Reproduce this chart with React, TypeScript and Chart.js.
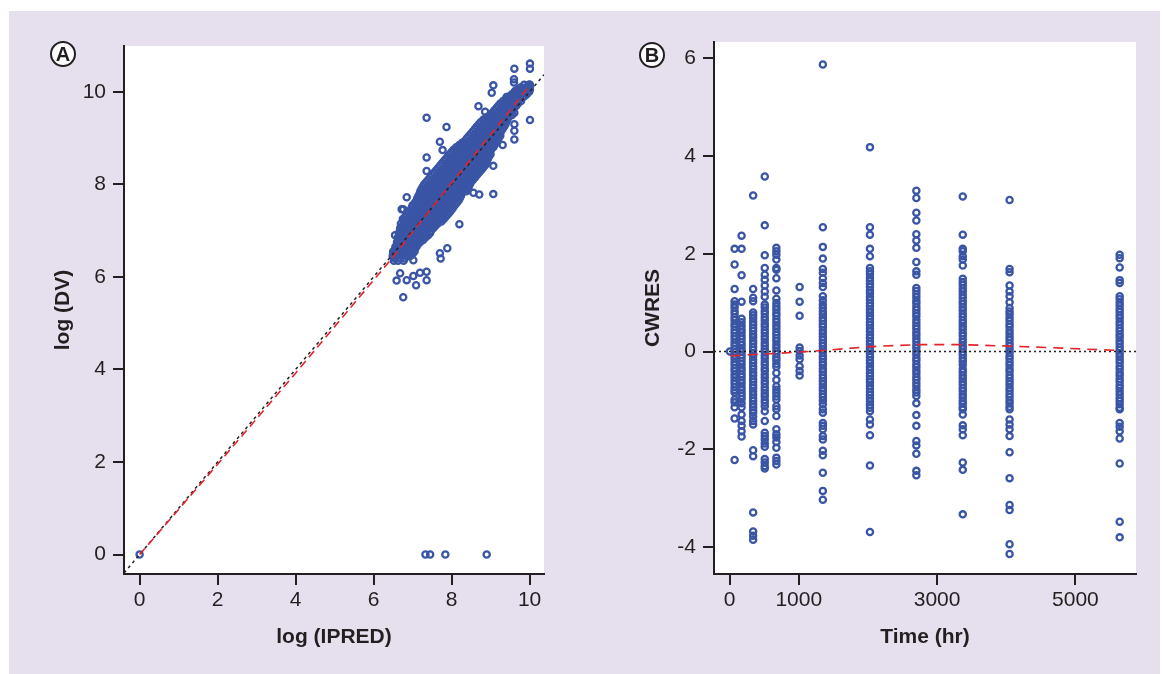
import React, { useEffect, useRef } from 'react';
import { Chart, registerables } from 'chart.js';

Chart.register(...registerables);

const FONT = '"Liberation Sans", Arial, Helvetica, sans-serif';
const INK = '#231f20';
const BLUE = '#3a55a5';
const RED = '#e3242b';
const LAVENDER = '#e6e0ee';

// ---------- Panel A: log(DV) vs log(IPRED) ----------
const ipredTicks = [0, 2, 4, 6, 8, 10];
const dvTicks = [0, 2, 4, 6, 8, 10];

// dense cloud, read row by row (log DV level -> log IPRED values)
const cloudDV = [6.35, 6.45, 6.55, 6.65, 6.75, 6.85, 6.95, 7.05, 7.15, 7.25, 7.35, 7.45, 7.55, 7.65, 7.75, 7.85, 7.95, 8.05, 8.15, 8.25, 8.35, 8.45, 8.55, 8.65, 8.75, 8.85, 8.95, 9.05, 9.15, 9.25, 9.35, 9.45, 9.55, 9.65, 9.75, 9.85, 9.95, 10.05, 10.15];
const cloudIPRED = [
  [6.52, 6.63, 6.77],
  [6.49, 6.6, 6.73, 6.85, 6.94],
  [6.5, 6.62, 6.74, 6.87, 6.97, 7.05],
  [6.56, 6.67, 6.8, 6.9, 7.02, 7.1],
  [6.6, 6.71, 6.83, 6.96, 7.07, 7.19],
  [6.62, 6.74, 6.86, 6.98, 7.11, 7.22, 7.33],
  [6.65, 6.77, 6.9, 7.01, 7.13, 7.26, 7.36, 7.45],
  [6.68, 6.8, 6.92, 7.05, 7.16, 7.28, 7.41, 7.53],
  [6.7, 6.83, 6.95, 7.07, 7.2, 7.31, 7.43, 7.56, 7.64],
  [6.75, 6.87, 6.99, 7.12, 7.23, 7.35, 7.48, 7.59, 7.71, 7.8],
  [6.85, 6.97, 7.1, 7.21, 7.33, 7.46, 7.57, 7.68, 7.8, 7.9],
  [6.95, 7.07, 7.19, 7.32, 7.43, 7.55, 7.67, 7.78, 7.89, 8.0],
  [7.0, 7.13, 7.24, 7.36, 7.49, 7.6, 7.72, 7.85, 7.96, 8.08],
  [7.1, 7.22, 7.35, 7.46, 7.58, 7.71, 7.82, 7.94, 8.07, 8.18],
  [7.15, 7.27, 7.4, 7.51, 7.63, 7.76, 7.87, 7.99, 8.12, 8.24],
  [7.2, 7.32, 7.45, 7.56, 7.68, 7.81, 7.92, 8.04, 8.17, 8.28, 8.38],
  [7.26, 7.38, 7.51, 7.62, 7.74, 7.87, 7.98, 8.1, 8.23, 8.34, 8.44],
  [7.35, 7.47, 7.6, 7.71, 7.83, 7.96, 8.07, 8.19, 8.32, 8.43, 8.5],
  [7.45, 7.57, 7.7, 7.81, 7.93, 8.06, 8.17, 8.29, 8.42, 8.53, 8.6],
  [7.55, 7.67, 7.8, 7.91, 8.03, 8.16, 8.27, 8.39, 8.52, 8.62, 8.7],
  [7.65, 7.77, 7.9, 8.01, 8.13, 8.26, 8.37, 8.49, 8.62, 8.72, 8.8],
  [7.75, 7.87, 8.0, 8.11, 8.23, 8.36, 8.47, 8.59, 8.72, 8.82, 8.9],
  [7.85, 7.97, 8.1, 8.21, 8.33, 8.46, 8.57, 8.69, 8.82, 8.93],
  [7.95, 8.07, 8.2, 8.31, 8.43, 8.56, 8.67, 8.79, 8.92, 9.0],
  [8.05, 8.17, 8.3, 8.41, 8.53, 8.66, 8.77, 8.89, 9.01],
  [8.2, 8.32, 8.45, 8.56, 8.68, 8.81, 8.92, 9.04, 9.1],
  [8.35, 8.47, 8.6, 8.71, 8.83, 8.96, 9.07, 9.18],
  [8.45, 8.57, 8.7, 8.81, 8.93, 9.06, 9.16, 9.25],
  [8.55, 8.67, 8.8, 8.91, 9.03, 9.16, 9.27],
  [8.65, 8.77, 8.9, 9.01, 9.13, 9.26, 9.35],
  [8.75, 8.87, 9.0, 9.11, 9.23, 9.35, 9.4],
  [8.9, 9.02, 9.15, 9.26, 9.38, 9.46],
  [9.05, 9.17, 9.3, 9.41, 9.53],
  [9.15, 9.27, 9.4, 9.51, 9.6],
  [9.25, 9.37, 9.5, 9.61, 9.7],
  [9.4, 9.52, 9.65, 9.76],
  [9.55, 9.67, 9.8, 9.93],
  [9.7, 9.82, 9.94, 10.01],
  [9.86, 9.98, 10.01],
];

// in-between rows of the same dense cloud
const cloudMidDV = [6.4, 6.5, 6.6, 6.7, 6.8, 6.9, 7.0, 7.1, 7.2, 7.3, 7.4, 7.5, 7.6, 7.7, 7.8, 7.9, 8.0, 8.1, 8.2, 8.3, 8.4, 8.5, 8.6, 8.7, 8.8, 8.9, 9.0, 9.1, 9.2, 9.3, 9.4, 9.5, 9.6, 9.7, 9.8, 9.9, 10.0, 10.1];
const cloudMidIPRED = [
  [6.55, 6.68, 6.8],
  [6.55, 6.67, 6.8, 6.92, 7.0],
  [6.56, 6.68, 6.8, 6.95, 7.06],
  [6.62, 6.75, 6.87, 7.0, 7.13],
  [6.66, 6.78, 6.92, 7.04, 7.16, 7.27],
  [6.68, 6.8, 6.93, 7.06, 7.18, 7.3, 7.4],
  [6.72, 6.85, 6.97, 7.09, 7.22, 7.34, 7.47],
  [6.74, 6.87, 6.99, 7.1, 7.24, 7.35, 7.48, 7.58],
  [6.77, 6.9, 7.02, 7.15, 7.26, 7.38, 7.52, 7.64, 7.74],
  [6.81, 6.93, 7.05, 7.17, 7.28, 7.41, 7.53, 7.64, 7.75, 7.85],
  [6.9, 7.02, 7.15, 7.27, 7.39, 7.5, 7.62, 7.74, 7.85, 7.95],
  [6.98, 7.1, 7.22, 7.34, 7.46, 7.58, 7.7, 7.82, 7.93, 8.04],
  [7.06, 7.18, 7.3, 7.42, 7.54, 7.66, 7.77, 7.9, 8.02, 8.13],
  [7.12, 7.25, 7.37, 7.49, 7.61, 7.73, 7.85, 7.97, 8.09, 8.21],
  [7.18, 7.3, 7.42, 7.54, 7.66, 7.78, 7.9, 8.02, 8.14, 8.26],
  [7.23, 7.35, 7.48, 7.6, 7.71, 7.84, 7.96, 8.07, 8.2, 8.31, 8.41],
  [7.3, 7.42, 7.55, 7.67, 7.79, 7.91, 8.03, 8.15, 8.27, 8.38, 8.47],
  [7.4, 7.52, 7.65, 7.76, 7.88, 8.01, 8.12, 8.24, 8.37, 8.48, 8.55],
  [7.5, 7.62, 7.75, 7.86, 7.98, 8.11, 8.22, 8.34, 8.47, 8.58, 8.65],
  [7.6, 7.72, 7.85, 7.96, 8.08, 8.21, 8.32, 8.44, 8.57, 8.67, 8.75],
  [7.7, 7.82, 7.95, 8.06, 8.18, 8.31, 8.42, 8.54, 8.67, 8.77, 8.85],
  [7.8, 7.92, 8.05, 8.16, 8.28, 8.41, 8.52, 8.64, 8.77, 8.88],
  [7.9, 8.02, 8.15, 8.26, 8.38, 8.51, 8.62, 8.74, 8.87, 8.96],
  [8.0, 8.12, 8.25, 8.36, 8.48, 8.61, 8.72, 8.84, 8.96],
  [8.12, 8.25, 8.37, 8.5, 8.62, 8.74, 8.86, 8.98, 9.07],
  [8.27, 8.4, 8.52, 8.64, 8.76, 8.88, 9.0, 9.14],
  [8.4, 8.52, 8.65, 8.76, 8.88, 9.0, 9.12, 9.21],
  [8.5, 8.62, 8.75, 8.86, 8.98, 9.1, 9.22],
  [8.6, 8.72, 8.84, 8.96, 9.08, 9.2, 9.31],
  [8.7, 8.82, 8.94, 9.06, 9.18, 9.3, 9.38],
  [8.82, 8.95, 9.08, 9.2, 9.32, 9.43],
  [8.98, 9.1, 9.23, 9.35, 9.47, 9.55],
  [9.1, 9.22, 9.34, 9.46, 9.56],
  [9.2, 9.32, 9.44, 9.56, 9.66],
  [9.32, 9.45, 9.58, 9.7, 9.78],
  [9.47, 9.6, 9.72, 9.86],
  [9.62, 9.75, 9.88, 9.99],
  [9.78, 9.92, 10.01],
];

// scattered points around the cloud
const outlierIPRED = [9.61, 10.01, 10.01, 9.6, 9.6, 9.07, 9.03, 10.01, 10.0, 10.01, 9.41, 9.63, 9.31, 9.31, 8.69, 8.86, 9.07, 9.61, 9.61, 9.61, 9.61, 9.31, 7.36, 7.87, 7.7, 7.77, 7.36, 7.36, 6.85, 6.76, 8.56, 8.71, 9.07, 9.07, 8.2, 7.89, 7.72, 7.36, 7.19, 7.02, 6.85, 6.59, 6.68, 7.09, 6.76, 7.36, 6.55, 6.5, 6.68, 7.02, 7.7, 8.13, 6.72, 6.68, 6.55];
const outlierDV = [10.5, 10.61, 10.5, 10.27, 10.2, 10.14, 9.98, 10.12, 10.15, 9.39, 9.89, 10.02, 9.73, 9.53, 9.69, 9.57, 9.55, 9.55, 9.3, 9.16, 8.97, 8.85, 9.44, 9.24, 8.92, 8.74, 8.58, 8.29, 7.72, 7.46, 7.82, 7.78, 7.79, 8.4, 7.14, 6.62, 6.4, 6.11, 6.09, 6.02, 5.93, 5.92, 6.08, 5.82, 5.56, 5.93, 6.9, 6.51, 6.58, 6.36, 6.51, 7.8, 7.46, 7.01, 6.58];

// observations below quantification (log DV = 0)
const zeroDVIPRED = [0, 7.33, 7.45, 7.84, 8.9];

// identity line ends (axis limits) and loess smooth
const identityEnds = [-0.4, 10.37];
const loessAIPRED = [0, 2, 4, 6, 6.5, 7, 7.5, 8, 8.5, 9, 9.5, 9.98];
const loessADV = [0, 1.95, 3.92, 5.93, 6.43, 6.97, 7.5, 8.03, 8.55, 9.08, 9.6, 10.12];

// ---------- Panel B: CWRES vs Time ----------
const timeTicks = [0, 1000, 3000, 5000];
const cwresTicks = [-4, -2, 0, 2, 4, 6];

const sampleTimes = [4, 72, 173, 340, 508, 676, 1012, 1348, 2029, 2700, 3371, 4048, 5640];
const cwres4 = [0];
const cwres72 = [2.1, 1.78, 1.28, 1.03, 0.96, 0.9, 0.83, 0.77, 0.7, 0.64, 0.57, 0.51, 0.44, 0.38, 0.31, 0.25, 0.18, 0.12, 0.05, -0.01, -0.08, -0.14, -0.21, -0.27, -0.34, -0.4, -0.47, -0.53, -0.6, -0.66, -0.73, -0.79, -0.84, -0.98, -1.04, -1.14, -1.37, -2.22];
const cwres173 = [2.37, 2.1, 1.56, 1.02, 0.67, 0.6, 0.52, 0.45, 0.39, 0.32, 0.26, 0.19, 0.13, 0.06, 0, -0.07, -0.13, -0.2, -0.26, -0.33, -0.39, -0.46, -0.52, -0.59, -0.65, -0.72, -0.78, -0.85, -0.91, -0.97, -1.06, -1.14, -1.29, -1.42, -1.52, -1.63, -1.74];
const cwres340 = [3.19, 1.28, 1.1, 1.03, 0.8, 0.74, 0.68, 0.61, 0.55, 0.48, 0.42, 0.35, 0.29, 0.22, 0.16, 0.09, 0.03, -0.04, -0.1, -0.17, -0.23, -0.3, -0.36, -0.43, -0.49, -0.56, -0.62, -0.69, -0.75, -0.82, -0.88, -0.95, -1.01, -1.08, -1.14, -1.2, -1.25, -1.33, -1.42, -1.49, -2.02, -2.14, -3.29, -3.68, -3.77, -3.85];
const cwres508 = [3.58, 2.58, 1.97, 1.71, 1.57, 1.47, 1.35, 1.23, 1.12, 0.96, 0.9, 0.83, 0.77, 0.7, 0.64, 0.57, 0.51, 0.44, 0.38, 0.31, 0.25, 0.18, 0.12, 0.05, -0.01, -0.08, -0.14, -0.21, -0.27, -0.34, -0.4, -0.47, -0.53, -0.6, -0.66, -0.73, -0.79, -0.86, -0.92, -0.99, -1.05, -1.12, -1.22, -1.42, -1.66, -1.73, -1.8, -1.88, -1.95, -2.2, -2.27, -2.34, -2.39];
const cwres676 = [2.12, 2.05, 1.98, 1.88, 1.71, 1.67, 1.5, 1.25, 1.08, 0.99, 0.92, 0.86, 0.79, 0.73, 0.66, 0.6, 0.53, 0.47, 0.4, 0.34, 0.27, 0.21, 0.14, 0.08, 0.01, -0.05, -0.12, -0.18, -0.25, -0.31, -0.44, -0.58, -0.71, -0.78, -0.85, -0.92, -0.98, -1.12, -1.18, -1.32, -1.59, -1.69, -1.76, -1.85, -1.97, -2.17, -2.24, -2.31];
const cwres1012 = [1.32, 1.02, 0.73, 0.08, 0.01, -0.08, -0.16, -0.3, -0.4, -0.49];
const cwres1348 = [5.87, 2.54, 2.14, 1.9, 1.69, 1.61, 1.5, 1.4, 1.32, 1.13, 1.05, 0.96, 0.89, 0.82, 0.76, 0.69, 0.63, 0.56, 0.5, 0.43, 0.37, 0.3, 0.24, 0.17, 0.11, 0.04, -0.02, -0.09, -0.15, -0.22, -0.28, -0.35, -0.41, -0.48, -0.54, -0.61, -0.67, -0.74, -0.8, -0.87, -0.93, -1.0, -1.08, -1.18, -1.25, -1.46, -1.52, -1.59, -1.73, -1.8, -2.03, -2.12, -2.48, -2.85, -3.03];
const cwres2029 = [4.18, 2.54, 2.39, 2.1, 1.95, 1.71, 1.64, 1.58, 1.51, 1.45, 1.38, 1.32, 1.25, 1.19, 1.12, 1.06, 0.99, 0.93, 0.86, 0.8, 0.73, 0.67, 0.6, 0.54, 0.47, 0.41, 0.34, 0.28, 0.21, 0.15, 0.08, 0.02, -0.05, -0.11, -0.18, -0.24, -0.31, -0.37, -0.44, -0.5, -0.57, -0.63, -0.7, -0.76, -0.83, -0.89, -0.96, -1.02, -1.09, -1.15, -1.22, -1.39, -1.49, -1.71, -2.33, -3.69];
const cwres2700 = [3.29, 3.14, 2.84, 2.68, 2.4, 2.27, 2.12, 1.83, 1.64, 1.57, 1.3, 1.24, 1.17, 1.11, 1.04, 0.98, 0.91, 0.85, 0.78, 0.72, 0.65, 0.59, 0.52, 0.46, 0.39, 0.33, 0.26, 0.2, 0.13, 0.07, 0.0, -0.06, -0.13, -0.19, -0.26, -0.32, -0.39, -0.45, -0.52, -0.58, -0.65, -0.71, -0.78, -0.84, -0.91, -1.06, -1.3, -1.52, -1.83, -1.92, -2.09, -2.44, -2.53];
const cwres3371 = [3.17, 2.39, 2.1, 2.05, 1.95, 1.88, 1.76, 1.49, 1.42, 1.36, 1.29, 1.23, 1.16, 1.1, 1.03, 0.97, 0.9, 0.84, 0.77, 0.71, 0.64, 0.58, 0.51, 0.45, 0.38, 0.32, 0.25, 0.19, 0.12, 0.06, -0.01, -0.07, -0.14, -0.2, -0.27, -0.36, -0.42, -0.49, -0.55, -0.62, -0.68, -0.75, -0.81, -0.88, -0.94, -1.01, -1.07, -1.14, -1.18, -1.29, -1.51, -1.59, -1.71, -2.27, -2.42, -3.33];
const cwres4048 = [3.1, 1.69, 1.62, 1.35, 1.23, 1.13, 1.01, 0.89, 0.82, 0.76, 0.69, 0.63, 0.56, 0.5, 0.43, 0.37, 0.3, 0.24, 0.17, 0.11, 0.04, -0.02, -0.09, -0.15, -0.22, -0.28, -0.35, -0.41, -0.48, -0.54, -0.61, -0.67, -0.74, -0.8, -0.87, -0.93, -1.0, -1.06, -1.13, -1.18, -1.39, -1.49, -1.59, -1.73, -2.06, -2.59, -3.14, -3.24, -3.94, -4.14];
const cwres5640 = [1.98, 1.91, 1.72, 1.46, 1.4, 1.13, 1.07, 1.0, 0.94, 0.87, 0.81, 0.74, 0.68, 0.61, 0.55, 0.48, 0.42, 0.35, 0.29, 0.22, 0.16, 0.09, 0.03, -0.04, -0.1, -0.17, -0.23, -0.3, -0.36, -0.43, -0.49, -0.56, -0.62, -0.69, -0.75, -0.82, -0.88, -0.95, -1.01, -1.08, -1.15, -1.18, -1.46, -1.54, -1.63, -1.78, -2.29, -3.48, -3.8];
const cwresByTime = [cwres4, cwres72, cwres173, cwres340, cwres508, cwres676, cwres1012, cwres1348, cwres2029, cwres2700, cwres3371, cwres4048, cwres5640];

const zeroLineEnds = [-226, 5876];
const loessBTime = [15, 340, 676, 1012, 1348, 2029, 2700, 3371, 4048, 4800, 5640];
const loessBCwres = [-0.09, -0.06, -0.04, -0.01, 0.02, 0.1, 0.14, 0.14, 0.11, 0.07, 0.02];

// ---------- helpers ----------
type Pt = { x: number; y: number };

function axis(opts: { min: number; max: number; ticks: number[]; title: string; titlePad: number; isX: boolean; size: number; tickPad: number }) {
  return {
    type: 'linear' as const,
    position: opts.isX ? ('bottom' as const) : ('left' as const),
    min: opts.min,
    max: opts.max,
    afterBuildTicks: (s: any) => {
      s.ticks = opts.ticks.map((v) => ({ value: v }));
    },
    afterFit: (s: any) => {
      if (opts.isX) s.height = opts.size;
      else s.width = opts.size;
    },
    grid: { drawOnChartArea: false, drawTicks: true, tickLength: 11, color: INK, lineWidth: 2 },
    border: { display: true, color: INK, width: 2 },
    ticks: {
      color: INK,
      font: { family: FONT, size: 21 },
      padding: opts.tickPad,
      maxRotation: 0,
      autoSkip: false,
      callback: (v: any) => String(v),
    },
    title: {
      display: true,
      text: opts.title,
      color: INK,
      font: { family: FONT, size: 21, weight: 'bold' as const },
      padding: { top: opts.titlePad, bottom: opts.titlePad },
    },
  };
}

const pointStyle = {
  pointRadius: 3.1,
  pointBorderWidth: 2.3,
  pointBorderColor: BLUE,
  pointBackgroundColor: 'rgba(0,0,0,0)',
  pointHoverRadius: 3.1,
  showLine: false,
};

function lineDs(data: Pt[], color: string, dash: number[], width: number) {
  return {
    data,
    showLine: true,
    borderColor: color,
    borderWidth: width,
    borderDash: dash,
    pointRadius: 0,
    fill: false,
    tension: 0,
  };
}

function ChartCanvas({ config, left, top, width, height }: { config: any; left: number; top: number; width: number; height: number }) {
  const ref = useRef<HTMLCanvasElement | null>(null);
  useEffect(() => {
    if (!ref.current) return;
    const chart = new Chart(ref.current, config);
    return () => chart.destroy();
  }, [config]);
  return (
    <canvas
      ref={ref}
      width={width}
      height={height}
      style={{ position: 'absolute', left, top, width, height }}
    />
  );
}

function buildConfigA() {
  const pts: Pt[] = [];
  cloudDV.forEach((dv, i) => cloudIPRED[i].forEach((ip) => pts.push({ x: ip, y: dv })));
  cloudMidDV.forEach((dv, i) => cloudMidIPRED[i].forEach((ip) => pts.push({ x: ip, y: dv })));
  outlierIPRED.forEach((ip, i) => pts.push({ x: ip, y: outlierDV[i] }));
  zeroDVIPRED.forEach((ip) => pts.push({ x: ip, y: 0 }));
  return {
    type: 'scatter',
    data: {
      datasets: [
        lineDs(loessAIPRED.map((x, i) => ({ x, y: loessADV[i] })), RED, [8, 5], 1.6),
        lineDs(identityEnds.map((v) => ({ x: v, y: v })), INK, [3, 3.5], 1.5),
        { data: pts, ...pointStyle },
      ],
    },
    options: {
      responsive: false,
      animation: false,
      devicePixelRatio: 1,
      layout: { padding: { left: 0, top: 35, right: 45, bottom: 0 } },
      plugins: { legend: { display: false }, tooltip: { enabled: false } },
      scales: {
        x: axis({ min: -0.4, max: 10.37, ticks: ipredTicks, title: 'log (IPRED)', titlePad: 24, isX: true, size: 100, tickPad: 3 }),
        y: axis({ min: -0.42, max: 10.99, ticks: dvTicks, title: 'log (DV)', titlePad: 42, isX: false, size: 115, tickPad: 7 }),
      },
    },
  };
}

function buildConfigB() {
  const pts: Pt[] = [];
  sampleTimes.forEach((t, i) => cwresByTime[i].forEach((c) => pts.push({ x: t, y: c })));
  return {
    type: 'scatter',
    data: {
      datasets: [
        lineDs(loessBTime.map((x, i) => ({ x, y: loessBCwres[i] })), RED, [10, 7], 1.6),
        lineDs(zeroLineEnds.map((x) => ({ x, y: 0 })), INK, [2, 3], 1.7),
        { data: pts, ...pointStyle },
      ],
    },
    options: {
      responsive: false,
      animation: false,
      devicePixelRatio: 1,
      layout: { padding: { left: 0, top: 31, right: 24, bottom: 0 } },
      plugins: { legend: { display: false }, tooltip: { enabled: false } },
      scales: {
        x: axis({ min: -226, max: 5876, ticks: timeTicks, title: 'Time (hr)', titlePad: 24, isX: true, size: 100, tickPad: 3 }),
        y: axis({ min: -4.55, max: 6.33, ticks: cwresTicks, title: 'CWRES', titlePad: 52, isX: false, size: 125, tickPad: 7 }),
      },
    },
  };
}

const configA = buildConfigA();
const configB = buildConfigB();

function Badge({ letter, cx, cy }: { letter: string; cx: number; cy: number }) {
  return (
    <div
      style={{
        position: 'absolute',
        left: cx - 13,
        top: cy - 13,
        width: 22,
        height: 22,
        border: `2px solid ${INK}`,
        borderRadius: '50%',
        background: '#ffffff',
        display: 'flex',
        alignItems: 'center',
        justifyContent: 'center',
        fontFamily: FONT,
        fontWeight: 'bold',
        fontSize: 20,
        color: INK,
        lineHeight: 1,
      }}
    >
      {letter}
    </div>
  );
}

export default function App() {
  return (
    <div style={{ position: 'absolute', left: 0, top: 0, width: 1162, height: 674, background: '#ffffff', overflow: 'hidden' }}>
      <div style={{ position: 'absolute', left: 9, top: 11, width: 1151, height: 663, background: LAVENDER }} />
      <div style={{ position: 'absolute', left: 124, top: 46, width: 420, height: 528, background: '#ffffff' }} />
      <div style={{ position: 'absolute', left: 714, top: 42, width: 422, height: 532, background: '#ffffff' }} />
      <ChartCanvas config={configA} left={9} top={11} width={580} height={663} />
      <ChartCanvas config={configB} left={589} top={11} width={571} height={663} />
      <Badge letter="A" cx={63} cy={54} />
      <Badge letter="B" cx={652} cy={55} />
    </div>
  );
}
